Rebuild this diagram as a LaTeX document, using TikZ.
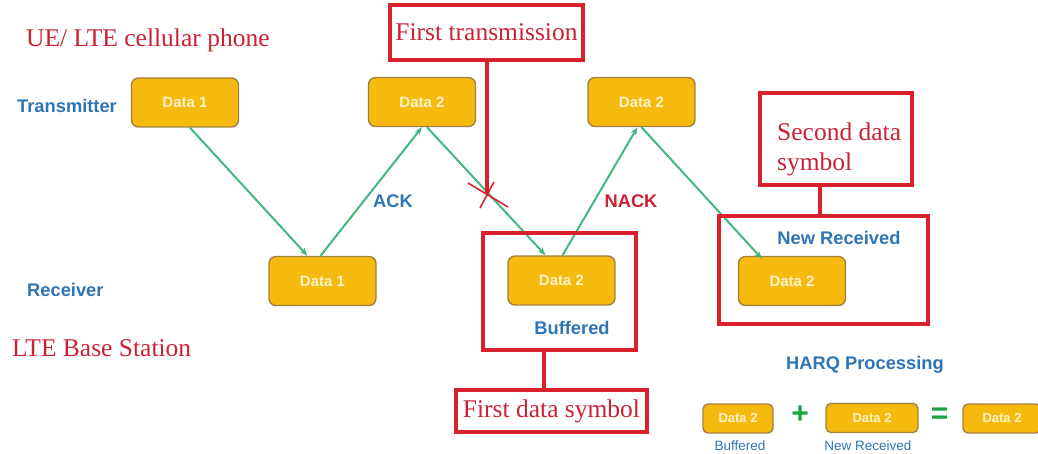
\documentclass[tikz,border=0pt]{standalone}
\usepackage{fontspec}
\setmainfont{Liberation Serif}
\setsansfont{Liberation Sans}
\usetikzlibrary{arrows.meta}

\definecolor{gold}{RGB}{246,186,14}
\definecolor{goldedge}{RGB}{160,130,64}
\definecolor{datatext}{RGB}{255,242,200}
\definecolor{linkgreen}{RGB}{64,184,128}
\definecolor{labelblue}{RGB}{46,117,182}
\definecolor{notered}{RGB}{204,32,52}
\definecolor{framered}{RGB}{217,33,45}
\definecolor{signgreen}{RGB}{30,160,70}

\begin{document}
\begin{tikzpicture}[x=1pt,y=-1pt,
  datablock/.style={draw=goldedge, line width=1.4pt, fill=gold, rounded corners=7pt,
    minimum width=107pt, minimum height=49pt, inner sep=0pt, text=datatext,
    font=\sffamily\bfseries\fontsize{15}{17}\selectfont},
  minidata/.style={datablock, rounded corners=5pt, minimum height=29pt,
    font=\sffamily\bfseries\fontsize{13}{15}\selectfont},
  bluelabel/.style={text=labelblue, inner sep=0pt, font=\sffamily\bfseries\fontsize{18.3}{21}\selectfont},
  smallblue/.style={text=labelblue, inner sep=0pt, font=\sffamily\fontsize{13.5}{16}\selectfont},
  redtext/.style={text=notered, inner sep=0pt, font=\fontsize{25.5}{30}\selectfont},
  redframe/.style={draw=framered, line width=3.6pt, inner sep=0pt},
  stem/.style={draw=framered, line width=3.6pt},
  link/.style={draw=linkgreen, line width=2pt, -{Stealth[length=8pt,width=6pt]}},
  sign/.style={text=signgreen, inner sep=0pt, font=\sffamily\bfseries\fontsize{30}{30}\selectfont}
]
\useasboundingbox (0,0) rectangle (1038,454);
\clip (0,0) rectangle (1038,454);

% side captions
\node[redtext, anchor=west] (ue) at (26,40) {UE/ LTE cellular phone};
\node[bluelabel, anchor=west] (txlabel) at (17,106) {Transmitter};
\node[bluelabel, anchor=west] (rxlabel) at (27,290) {Receiver};
\node[redtext, anchor=west] (bs) at (12,348) {LTE Base Station};

% transmitted blocks
\node[datablock] (tx1) at (185,102.5) {Data 1};
\node[datablock] (tx2) at (422,102) {Data 2};
\node[datablock] (tx3) at (641.5,102) {Data 2};

% received blocks
\node[datablock] (rx1) at (322.5,281) {Data 1};
\node[datablock] (rx2) at (561.5,280.5) {Data 2};
\node[datablock] (rx3) at (792,281) {Data 2};

% transfers and feedback
\draw[link] ([xshift=5pt]tx1.south) -- ([xshift=-15pt]rx1.north);
\draw[link] ([xshift=-2pt]rx1.north) -- (tx2.south);
\draw[link] ([xshift=5pt]tx2.south) -- ([xshift=-16pt]rx2.north);
\draw[link] ([xshift=1pt]rx2.north) -- ([xshift=-4pt]tx3.south);
\draw[link] (tx3.south) -- ([xshift=-30pt,yshift=-3pt]rx3.north);

\node[bluelabel] (ack) at (393,201) {ACK};
\node[bluelabel, text=notered] (nack) at (631,201) {NACK};
\node[bluelabel] (buf) at (572,328) {Buffered};
\node[bluelabel] (newrx) at (839,238) {New Received};

% lost first transmission
\node[redframe, minimum width=193pt, minimum height=55pt, redtext] (ft) at (486.5,32.5) {First transmission};
\coordinate (cut) at (487,193);
\draw[stem] (ft.south -| cut) -- (cut);
\draw[framered, line width=1.6pt] (468,183) -- (508,207);
\draw[framered, line width=1.6pt] (494,182) -- (480,208);

% buffered copy
\node[redframe, minimum width=153pt, minimum height=117pt] (bufframe) at (559.5,291.5) {};
\node[redframe, minimum width=191pt, minimum height=42pt, redtext] (fds) at (551.5,411) {First data symbol};
\coordinate (bufstem) at (544,0);
\draw[stem] (bufframe.south -| bufstem) -- (fds.north -| bufstem);

% new copy
\node[redframe, minimum width=209pt, minimum height=108pt] (nrframe) at (823.5,270) {};
\node[redframe, minimum width=152pt, minimum height=92pt] (sds) at (836,139) {};
\node[redtext, anchor=north west, align=left] (sdstext) at (777,123) {Second data\\symbol};
\coordinate (newstem) at (820,0);
\draw[stem] (sds.south -| newstem) -- (nrframe.north -| newstem);

% soft combining
\node[bluelabel] (harq) at (865,365) {HARQ Processing};
\node[minidata, minimum width=70pt] (cbuf) at (738,418.5) {Data 2};
\node[sign] (plus) at (800,415) {+};
\node[minidata, minimum width=92pt] (cnew) at (872,418) {Data 2};
\node[sign] (eq) at (939.5,416) {=};
\node[minidata, minimum width=78pt] (csum) at (1002,418.5) {Data 2};
\node[smallblue] (cbuflabel) at (740,446) {Buffered};
\node[smallblue] (cnewlabel) at (868,446) {New Received};
\end{tikzpicture}
\end{document}
